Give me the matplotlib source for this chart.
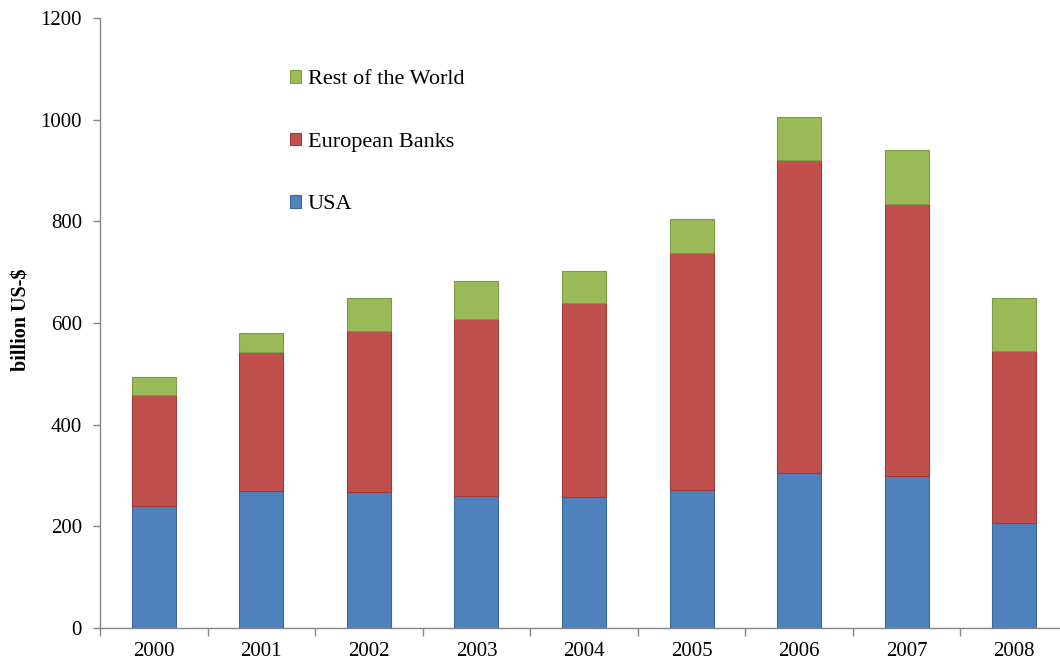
import matplotlib
matplotlib.use("Agg")
import matplotlib.pyplot as plt
import numpy as np

years = ["2000", "2001", "2002", "2003", "2004", "2005", "2006", "2007", "2008"]
usa = [240, 270, 268, 260, 258, 272, 305, 299, 207]
european_banks = [218, 273, 316, 348, 381, 466, 616, 535, 338]
rest_of_world = [36, 37, 65, 75, 63, 67, 84, 106, 104]
yticks = [0, 200, 400, 600, 800, 1000, 1200]

plt.rcParams['font.family'] = ['Liberation Serif', 'DejaVu Serif']

fig = plt.figure(figsize=(10.6, 6.66), dpi=100)
ax = fig.add_axes([100/1060, 38/666, 968/1060, 610/666])

x = np.arange(len(years))
w = 0.41
usa_a = np.array(usa)
eu_a = np.array(european_banks)
row_a = np.array(rest_of_world)

b1 = ax.bar(x, usa_a, w, color="#4F81BD", edgecolor="#3C6796", linewidth=0.8, label="USA")
b2 = ax.bar(x, eu_a, w, bottom=usa_a, color="#C0504D", edgecolor="#9A3D3A", linewidth=0.8, label="European Banks")
b3 = ax.bar(x, row_a, w, bottom=usa_a + eu_a, color="#9BBB59", edgecolor="#7D9A45", linewidth=0.8, label="Rest of the World")

ax.set_xlim(-0.5, len(years) - 0.5)
ax.set_ylim(0, 1200)
ax.set_yticks(yticks)
ax.set_yticklabels([str(t) for t in yticks], fontsize=15)
ax.set_xticks(x)
ax.set_xticklabels(years, fontsize=15)
ax.set_xticks(np.arange(len(years) + 1) - 0.5, minor=True)
ax.tick_params(axis='x', which='major', length=0, pad=10)
ax.tick_params(axis='x', which='minor', length=6, color="#868686", width=1)
ax.tick_params(axis='y', length=5, color="#868686", width=1, pad=8)

for s in ['top', 'right']:
    ax.spines[s].set_visible(False)
for s in ['left', 'bottom']:
    ax.spines[s].set_color("#868686")
    ax.spines[s].set_linewidth(1)

ax.set_ylabel("billion US-$", fontsize=14.5, fontweight='bold')
ax.yaxis.set_label_coords((31 - 100) / 968, 0.505)

leg = ax.legend(handles=[b3, b2, b1], loc='upper left',
                bbox_to_anchor=(290/1060, 1 - 70/666), bbox_transform=fig.transFigure,
                frameon=False, fontsize=16, handlelength=0.5, handleheight=0.5,
                handletextpad=0.3, labelspacing=1.95, borderpad=0, borderaxespad=0)

fig.savefig("out.png", dpi=100)
